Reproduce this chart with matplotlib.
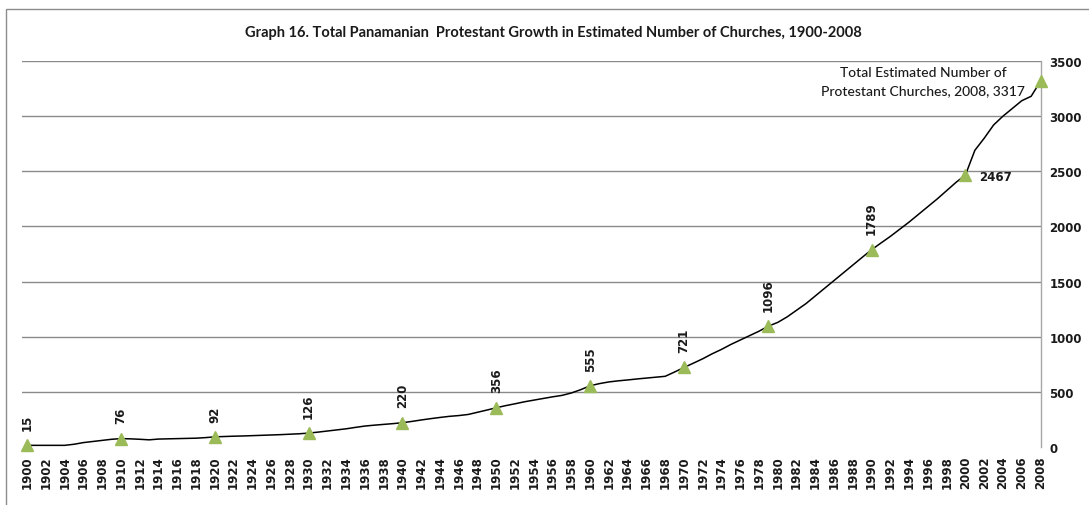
import matplotlib
matplotlib.use("Agg")
import matplotlib.pyplot as plt
from matplotlib.patches import Rectangle

# Estimated number of Protestant churches in Panama, by year
years = list(range(1900, 2009))
churches = [
    15, 15, 15, 15, 15, 25, 40, 50, 60, 70,            # 1900-1909
    76, 74, 70, 65, 72, 74, 76, 78, 80, 85,            # 1910-1919
    92, 95, 98, 100, 103, 106, 109, 112, 116, 120,     # 1920-1929
    126, 135, 145, 155, 165, 178, 190, 198, 205, 212,  # 1930-1939
    220, 232, 245, 257, 268, 278, 285, 295, 315, 335,  # 1940-1949
    356, 375, 392, 410, 425, 440, 455, 468, 490, 520,  # 1950-1959
    555, 575, 590, 600, 608, 617, 625, 633, 641, 680,  # 1960-1969
    721, 760, 800, 845, 885, 930, 970, 1010, 1050, 1096,  # 1970-1979
    1130, 1180, 1240, 1300, 1370, 1440, 1510, 1580, 1650, 1720,  # 1980-1989
    1789, 1850, 1910, 1975, 2040, 2110, 2180, 2250, 2325, 2400,  # 1990-1999
    2467, 2690, 2800, 2920, 3000, 3070, 3140, 3180, 3317,        # 2000-2008
]

# Benchmark years shown with markers and value labels
mark_years = [1900, 1910, 1920, 1930, 1940, 1950, 1960, 1970, 1979, 1990, 2000, 2008]
mark_values = [15, 76, 92, 126, 220, 356, 555, 721, 1096, 1789, 2467, 3317]

title = "Graph 16. Total Panamanian  Protestant Growth in Estimated Number of Churches, 1900-2008"
final_label = "Total Estimated Number of\nProtestant Churches, 2008, 3317"

W, H = 1089, 506
fig = plt.figure(figsize=(W / 100, H / 100), dpi=100)

# outer frame of the chart area
fig.patches.append(Rectangle((6 / W, -0.1), 1.2, (H - 10) / H + 0.1,
                             transform=fig.transFigure, fill=False,
                             edgecolor="#8c8c8c", lw=1.0))

left, right_px, top_px, bottom_px = 22, 1041, 62, 448
ax = fig.add_axes([left / W, (H - bottom_px) / H,
                   (right_px - left) / W, (bottom_px - top_px) / H])

ax.set_xlim(1899.45, 2008.05)
ax.set_ylim(0, 3500)

for v in range(500, 3501, 500):
    ax.axhline(v, color="#8a8a8a", lw=1.0, zorder=1)

ax.plot(years, churches, color="black", lw=1.1, zorder=3)
ax.plot(mark_years, mark_values, linestyle="none", marker="^",
        markersize=9, color="#9bbb59", zorder=4, clip_on=False)

label_font = dict(family="DejaVu Sans", fontsize=8.5, color="#1a1a1a",
                  fontweight="bold")
calibri_like = ["Lato", "DejaVu Sans"]
for yr, v in zip(mark_years, mark_values):
    if yr == 2000:
        ax.annotate(str(v), (yr, v), xytext=(10, -1), textcoords="offset points",
                    ha="left", va="center", **label_font)
    elif yr == 2008:
        ax.annotate(final_label, (yr, v), xytext=(-11, 0), textcoords="offset points",
                    ha="right", va="center", multialignment="center",
                    family=calibri_like, fontsize=10, color="#1a1a1a",
                    fontweight="medium", linespacing=1.55)
    else:
        ax.annotate(str(v), (yr, v), xytext=(0, 11), textcoords="offset points",
                    ha="center", va="bottom", rotation=90, **label_font)

for s in ("left", "top", "bottom"):
    ax.spines[s].set_visible(False)
ax.spines["right"].set_color("#a6a6a6")
ax.spines["right"].set_linewidth(1.0)

ax.yaxis.tick_right()
ax.set_yticks(range(0, 3501, 500))
ax.set_yticklabels([str(v) for v in range(0, 3501, 500)],
                   fontsize=8.5, fontweight="bold", color="#1a1a1a")
ax.tick_params(axis="y", length=0, pad=6)

xt = list(range(1900, 2009, 2))
ax.set_xticks(xt)
ax.set_xticklabels([str(y) for y in xt], rotation=90, fontsize=8.5,
                   fontweight="bold", color="#1a1a1a")
ax.tick_params(axis="x", length=0, pad=6)

fig.text(553 / W, 1 - 33 / H, title, ha="center", va="center",
         family=calibri_like, fontsize=10.5, fontweight="bold", color="#1a1a1a")

fig.savefig("out.png", dpi=100)
